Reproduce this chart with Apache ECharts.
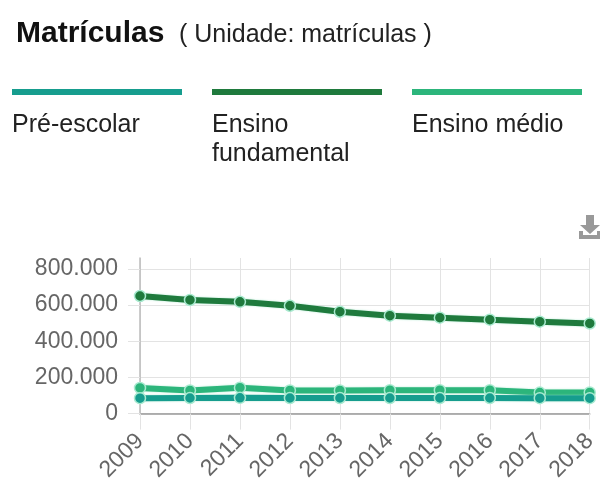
<!DOCTYPE html>
<html>
<head>
<meta charset="utf-8">
<script src="https://cdn.jsdelivr.net/npm/echarts@6/dist/echarts.min.js"></script>
<style>html,body{margin:0;padding:0;background:#fff;}#c{width:600px;height:484px;}</style>
</head>
<body>
<div id="c"></div>
<script>
var titleText = 'Matrículas';
var subtitleText = '( Unidade: matrículas )';
var years = ['2009','2010','2011','2012','2013','2014','2015','2016','2017','2018'];
var seriesNames = ['Pré-escolar', 'Ensino fundamental', 'Ensino médio'];
var seriesColors = ['#169d8e', '#1f7a3d', '#2cb57b'];
var preEscolar = [85000, 86000, 87000, 86000, 86000, 86000, 86000, 86000, 85000, 85000];
var ensinoFundamental = [650000, 628000, 618000, 596000, 563000, 541000, 530000, 519000, 508000, 498000];
var ensinoMedio = [142000, 128000, 143000, 128000, 128000, 129000, 129000, 129000, 116000, 117000];
var yTicks = [0, 200000, 400000, 600000, 800000];

var chart = echarts.init(document.getElementById('c'), null, {renderer: 'canvas'});
var FONT = 'Liberation Sans, Arial, sans-serif';

function fmt(v) {
  return String(v).replace(/\B(?=(\d{3})+(?!\d))/g, '.');
}

var allData = [preEscolar, ensinoFundamental, ensinoMedio];
var legendGraphics = [];
seriesNames.forEach(function (n, i) {
  var x = 12 + i * 200;
  legendGraphics.push({
    type: 'rect', left: x, top: 89, shape: {width: 170, height: 6},
    style: {fill: seriesColors[i]}, silent: true
  });
  legendGraphics.push({
    type: 'text', left: x, top: 111,
    style: {text: n, fill: '#222', font: '25px ' + FONT, width: 170, overflow: 'break', lineHeight: 29}
  });
});
legendGraphics.push({
  type: 'text', left: 16, top: 19,
  style: {text: titleText, font: 'bold 30px ' + FONT, fill: '#111'}
});
legendGraphics.push({
  type: 'text', left: 179, top: 23,
  style: {text: subtitleText, font: '25px ' + FONT, fill: '#222'}
});

var series = seriesNames.map(function (n, i) {
  return {
    name: n,
    type: 'line',
    data: allData[i],
    symbol: 'circle',
    symbolSize: 11,
    z: i === 1 ? 3 : (i === 0 ? 4 : 2),
    lineStyle: {width: 6, color: seriesColors[i], shadowColor: 'rgba(160,230,200,0.9)', shadowBlur: 2},
    itemStyle: {color: seriesColors[i], borderColor: '#a8ead0', borderWidth: 1.5},
    emphasis: {disabled: true}
  };
});

chart.setOption({
  animation: false,
  backgroundColor: '#fff',
  graphic: legendGraphics,
  toolbox: {
    right: -16, top: 200, itemSize: 24,
    iconStyle: {color: '#999', borderWidth: 0},
    feature: {
      saveAsImage: {
        title: '',
        icon: 'path://M7,0 h8 v10 h6 l-10,9 l-10,-9 h6 z M0,16 h4 v4 h14 v-4 h4 v8 h-22 z'
      }
    }
  },
  grid: {left: 140, right: 8, top: 258, bottom: 68},
  xAxis: {
    type: 'category',
    data: years,
    boundaryGap: false,
    axisLine: {lineStyle: {color: '#999', width: 1.5}},
    axisTick: {show: true, length: 16, lineStyle: {color: '#e3e3e3'}},
    splitLine: {show: true, lineStyle: {color: '#e3e3e3'}},
    axisLabel: {rotate: 45, color: '#666', fontSize: 23, fontFamily: FONT, margin: 24, interval: 0}
  },
  yAxis: {
    type: 'value',
    min: 0, max: 860000, interval: 200000,
    axisLine: {show: true, lineStyle: {color: '#bbb', width: 1.5}},
    axisTick: {show: true, length: 12, lineStyle: {color: '#e3e3e3'}},
    splitLine: {show: true, showMaxLine: false, lineStyle: {color: '#e3e3e3'}},
    axisLabel: {
      color: '#666', fontSize: 23, fontFamily: FONT, margin: 22, showMaxLabel: false,
      formatter: function (v) { return yTicks.indexOf(v) >= 0 ? fmt(v) : ''; }
    }
  },
  series: series
});
</script>
</body>
</html>
